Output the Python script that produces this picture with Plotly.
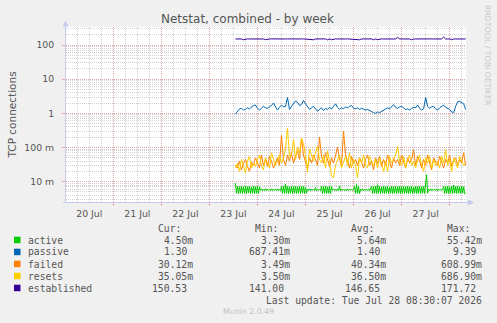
import plotly.graph_objects as go
import pandas as pd

# ---------------- data ----------------
hourly_start = "2026-07-23 13:00"
halfhour_start = "2026-07-23 13:00"

active_m = [
    9.0, 4.6, 7.4, 4.5, 7.2, 4.6, 7.3, 4.5, 7.1, 4.6, 7.4, 4.5, 7.2, 4.7, 7.3, 4.5, 7.0, 4.6, 7.4, 4.5, 7.2, 4.6, 7.3, 4.5, 7.1,
    5.6, 6.2, 5.4, 6.0, 5.5, 6.3, 5.4, 6.1, 5.6, 6.0, 5.5, 6.2, 5.4, 6.0, 5.6, 6.1, 5.5, 6.2, 5.4, 6.0, 5.5,
    7.2, 4.6, 7.4, 4.5, 8.6, 4.6, 7.3, 4.5, 7.1, 4.6, 7.4, 4.5, 7.2, 4.6, 7.3, 4.5, 7.1, 4.6, 7.4, 4.5, 7.2, 4.6, 7.3, 4.5, 7.0, 4.6,
    6.0, 5.5, 6.2, 5.4, 6.1, 5.6, 6.0, 5.5, 6.8, 5.4, 6.0, 5.6, 6.1, 5.5,
    7.3, 4.5, 7.2, 4.6, 7.4, 4.5, 7.1, 4.6, 7.3, 4.5, 7.2,
    5.6, 6.1, 5.5, 6.0, 5.4, 6.2, 5.5, 7.5, 5.4, 6.0, 5.6, 6.1, 5.5, 6.0, 5.4, 6.2, 5.5, 6.0, 5.6, 6.1, 5.5, 6.0,
    7.4, 4.5, 8.5, 4.6, 7.2, 4.5,
    6.0, 5.5, 6.2, 5.4, 6.1, 5.6, 6.0, 5.5, 6.2, 5.4, 6.0,
    7.3, 4.5, 7.2, 4.6, 7.4, 4.5, 8.2, 4.6, 7.3, 4.5, 7.1,
    4.6, 7.4, 4.5, 7.2, 4.6, 7.3, 4.5, 7.0, 4.6, 7.4, 4.5,
    7.2, 4.6, 7.3, 4.5, 7.1, 4.6, 7.4, 4.5, 7.2, 4.6, 7.3,
    4.5, 7.1, 4.6, 7.4, 4.5, 7.2, 4.6, 7.3, 4.5, 7.0, 4.6,
    7.4, 4.5, 7.2, 4.6, 7.3, 4.5, 7.1, 4.6, 7.4, 4.5, 7.2,
    16.0, 4.6,
    6.0, 5.5, 6.2, 5.4, 6.1, 5.6, 6.0, 5.5, 6.2, 5.4, 6.0, 5.6, 6.1, 5.5, 6.0,
    7.3, 4.5, 7.2, 4.6, 7.4, 4.5, 7.1, 4.6, 7.3, 4.5, 8.0, 4.6, 7.2, 4.5, 7.4, 4.6, 7.1, 4.5, 7.3, 4.6, 7.2, 4.5, 4.5,
]

passive = [
    0.95, 1.15, 1.35, 1.4, 1.25, 1.3, 1.45, 1.35, 1.5, 1.7, 1.75, 1.4,
    1.25, 1.45, 1.6, 1.45, 1.4, 1.55, 1.7, 2.0, 1.5, 1.25, 1.5, 1.75,
    1.55, 1.6, 2.9, 1.3, 1.6, 1.95, 2.3, 2.1, 1.7, 1.8, 2.4, 1.9,
    1.55, 1.3, 1.45, 1.6, 1.35, 1.15, 1.3, 1.45, 1.2, 1.4, 1.3, 1.5,
    1.35, 1.6, 1.9, 1.5, 1.3, 1.45, 1.35, 1.55, 1.45, 1.6, 1.7, 1.4,
    1.35, 1.45, 1.3, 1.4, 1.35, 1.25, 1.3, 1.2, 1.1, 1.05, 1.0, 1.1,
    1.05, 1.15, 1.25, 1.3, 1.45, 1.35, 1.6, 1.8, 1.5, 1.4, 1.55, 1.6,
    1.45, 1.3, 1.35, 1.25, 1.4, 1.5, 1.45, 1.75, 1.4, 1.25, 1.35, 2.9,
    1.6, 1.4, 1.55, 1.6, 1.35, 1.25, 1.45, 1.6, 1.75, 1.5, 1.4, 1.3,
    1.1, 1.05, 1.6, 2.2, 2.25, 2.1, 1.9, 1.3,
]

failed_m = [
    30, 25, 40, 22, 35, 45, 28, 20, 38, 30, 50,
    35, 25, 60, 30, 45, 28, 55, 40, 25, 35,
    50, 30, 230, 45, 30, 60, 40, 70, 35, 55,
    80, 45, 190, 60, 40, 25, 50, 35, 60, 45,
    30, 200, 55, 35, 70, 40, 28, 50, 35, 60,
    100, 45, 30, 300, 60, 40, 25, 55, 35, 45,
    30, 50, 38, 25, 45, 60, 30, 40, 22, 50,
    35, 55, 28, 45, 30, 60, 40, 25, 50, 35,
    45, 30, 60, 38, 25, 50, 35, 45, 85, 30,
    55, 40, 25, 45, 30, 60, 35, 22, 50, 40,
    30, 55, 38, 25, 45, 35, 60, 28, 40, 50,
    30, 45, 35, 70, 30,
]

resets_m = [
    25, 35, 20, 45, 30, 18, 40, 55, 25, 35, 28,
    45, 60, 30, 22, 50, 35, 25, 70, 45, 30,
    40, 60, 35, 50, 90, 370, 55, 60, 170, 45,
    100, 70, 185, 130, 60, 19, 90, 55, 40, 70,
    110, 45, 35, 60, 25, 80, 40, 15, 13, 30,
    45, 60, 25, 40, 55, 30, 70, 25, 45, 30,
    13, 50, 35, 60, 30, 25, 55, 40, 30, 45,
    25, 50, 35, 20, 40, 20, 55, 35, 45, 60,
    105, 40, 30, 55, 25, 45, 60, 30, 40, 25,
    45, 60, 30, 20, 50, 35, 55, 25, 45, 30,
    40, 25, 55, 35, 85, 30, 45, 20, 50, 35,
    25, 55, 40, 30, 35,
]

established = [
    150, 151, 150, 150, 142, 150, 151, 150, 150, 151, 150, 150,
    150, 151, 150, 143, 150, 150, 151, 150, 150, 150, 151, 150,
    150, 150, 151, 150, 150, 150, 151, 150, 150, 150, 151, 150,
    150, 151, 150, 142, 150, 150, 151, 150, 150, 151, 141, 150,
    142, 150, 151, 150, 150, 143, 150, 150, 151, 150, 150, 151,
    150, 150, 142, 150, 151, 150, 150, 150, 151, 142, 150, 143,
    150, 151, 150, 150, 150, 151, 150, 150, 150, 168, 151, 150,
    150, 150, 151, 150, 142, 150, 150, 151, 150, 150, 150, 151,
    150, 150, 151, 150, 150, 150, 151, 150, 171, 150, 150, 151,
    142, 150, 150, 151, 150, 150, 151, 150,
]

series_names = ["active", "passive", "failed", "resets", "established"]
series_colors = ["#00CC00", "#0066B3", "#FF8000", "#FFCC00", "#330099"]
col_headers = ["Cur:", "Min:", "Avg:", "Max:"]
legend_values = [
    ["4.50m", "3.30m", "5.64m", "55.42m"],
    ["1.30", "687.41m", "1.40", "9.39"],
    ["30.12m", "3.49m", "40.34m", "608.99m"],
    ["35.05m", "3.50m", "36.50m", "686.90m"],
    ["150.53", "141.00", "146.65", "171.72"],
]
y_tick_vals = [0.01, 0.1, 1, 10, 100]
y_tick_text = ["10 m", "100 m", "1", "10", "100"]
title_text = "Netstat, combined - by week"
y_title = "TCP connections"
last_update = "Last update: Tue Jul 28 08:30:07 2026"
footer = "Munin 2.0.49"
side_text = "RRDTOOL / TOBI OETIKER"
x_range = ["2026-07-20 00:22", "2026-07-28 08:10"]

# ---------------- build ----------------
W, H = 497, 323
L, R, T, B = 66, 466, 27, 202


def px(x):
    return (x - L) / (R - L)


def py(y):
    return (B - y) / (B - T)


t_hour = pd.date_range(hourly_start, periods=len(passive), freq="1h")
t_half = pd.date_range(halfhour_start, periods=len(active_m), freq="30min")

ys = [
    (t_half, [v / 1000 for v in active_m]),
    (t_hour, passive),
    (t_hour, [v / 1000 for v in failed_m]),
    (t_hour, [v / 1000 for v in resets_m]),
    (t_hour, established),
]

fig = go.Figure()
for (tx, vy), name, c in zip(ys, series_names, series_colors):
    fig.add_trace(go.Scatter(x=tx, y=vy, mode="lines", name=name,
                             line=dict(color=c, width=1), showlegend=False,
                             hoverinfo="skip"))

MAJ = "#e3a7a7"
MIN = "#d2d2d2"
TXT = "#555555"
AX = "#c4c9ef"

minor_y = []
for e in [0.001, 0.01, 0.1, 1, 10, 100]:
    for k in range(2, 10):
        minor_y.append(k * e)

fig.update_layout(
    width=W, height=H,
    margin=dict(l=L, r=W - R, t=T, b=H - B, pad=0),
    paper_bgcolor="#f0f0f0", plot_bgcolor="#ffffff",
    font=dict(family="DejaVu Sans", color=TXT, size=9.4),
    xaxis=dict(
        type="date", range=x_range, showline=False, zeroline=False,
        tick0="2026-07-20", dtick=86400000, ticklabelmode="period",
        tickformat="%d %b", showgrid=True, gridcolor=MAJ, griddash="1px,1px",
        gridwidth=1, ticks="outside", ticklen=3, tickcolor=MAJ,
        tickfont=dict(family="DejaVu Sans", size=9.4, color=TXT),
        minor=dict(dtick=6 * 3600 * 1000, tick0="2026-07-20", showgrid=True,
                   gridcolor=MIN, griddash="1px,1px", gridwidth=1),
    ),
    yaxis=dict(
        type="log", range=[-2.594, 2.5266], showline=False, zeroline=False,
        tickmode="array", tickvals=y_tick_vals, ticktext=y_tick_text,
        showgrid=True, gridcolor=MAJ, griddash="1px,1px", gridwidth=1,
        ticks="outside", ticklen=3, tickcolor=MAJ, ticklabelstandoff=6,
        tickfont=dict(family="DejaVu Sans", size=9.3, color=TXT),
        minor=dict(tickmode="array", tickvals=minor_y, showgrid=True,
                   gridcolor=MIN, griddash="1px,1px", gridwidth=1),
    ),
)

shapes = []
# axis lines with arrows
shapes.append(dict(type="line", xref="paper", yref="paper",
                   x0=px(65.5), x1=px(65.5), y0=py(202.5), y1=py(24),
                   line=dict(color=AX, width=1)))
shapes.append(dict(type="line", xref="paper", yref="paper",
                   x0=px(63), x1=px(470), y0=py(202.5), y1=py(202.5),
                   line=dict(color=AX, width=1)))
shapes.append(dict(type="path", xref="paper", yref="paper",
                   path=f"M {px(62.5)} {py(26.5)} L {px(68.5)} {py(26.5)} L {px(65.5)} {py(20.5)} Z",
                   fillcolor=AX, line=dict(width=0)))
shapes.append(dict(type="path", xref="paper", yref="paper",
                   path=f"M {px(468)} {py(199.5)} L {px(468)} {py(205.5)} L {px(474)} {py(202.5)} Z",
                   fillcolor=AX, line=dict(width=0)))

ann = []
MONO = "DejaVu Sans Mono"
FS = 9.7
ann.append(dict(text=title_text, x=px(247.5), y=py(19), xref="paper", yref="paper",
                showarrow=False, xanchor="center", yanchor="middle",
                font=dict(family="DejaVu Sans", size=12, color=TXT)))
ann.append(dict(text=y_title, x=px(11), y=py(114.5), xref="paper", yref="paper",
                showarrow=False, xanchor="center", yanchor="middle", textangle=-90,
                font=dict(family="DejaVu Sans", size=10.5, color=TXT)))
ann.append(dict(text=side_text, x=px(487.5), y=py(55.5), xref="paper", yref="paper",
                showarrow=False, xanchor="center", yanchor="middle", textangle=90,
                font=dict(family="DejaVu Sans", size=7.8, color="#c8c8c8")))

val_right = [194, 291, 387.3, 483.3]
CW = 5.85
row_y = [240, 252, 264, 276, 288]
for j, h in enumerate(col_headers):
    ann.append(dict(text=h, x=px(val_right[j] - 12), y=py(228), xref="paper", yref="paper",
                    showarrow=False, xanchor="right", yanchor="middle", borderpad=0,
                    font=dict(family=MONO, size=FS, color=TXT)))
for r, (name, c, vals) in enumerate(zip(series_names, series_colors, legend_values)):
    yc = row_y[r]
    shapes.append(dict(type="rect", xref="paper", yref="paper",
                       x0=px(14), x1=px(20.5), y0=py(yc + 3.2), y1=py(yc - 3.3),
                       fillcolor=c, line=dict(width=0)))
    ann.append(dict(text=name, x=px(26.5), y=py(yc), xref="paper", yref="paper",
                    showarrow=False, xanchor="left", yanchor="middle", borderpad=0,
                    font=dict(family=MONO, size=FS, color=TXT)))
    for j, v in enumerate(vals):
        xr = val_right[j] if v.endswith("m") else val_right[j] - CW
        ann.append(dict(text=v, x=px(xr), y=py(yc), xref="paper", yref="paper",
                        showarrow=False, xanchor="right", yanchor="middle", borderpad=0,
                        font=dict(family=MONO, size=FS, color=TXT)))
ann.append(dict(text=last_update, x=px(483.3), y=py(300), xref="paper", yref="paper",
                showarrow=False, xanchor="right", yanchor="middle", borderpad=0,
                font=dict(family=MONO, size=FS, color=TXT)))
ann.append(dict(text=footer, x=px(248.8), y=py(311.5), xref="paper", yref="paper",
                showarrow=False, xanchor="center", yanchor="middle", borderpad=0,
                font=dict(family="DejaVu Sans", size=7.8, color="#c0c0c0")))

fig.update_layout(shapes=shapes, annotations=ann)
fig.write_html("out.html")
